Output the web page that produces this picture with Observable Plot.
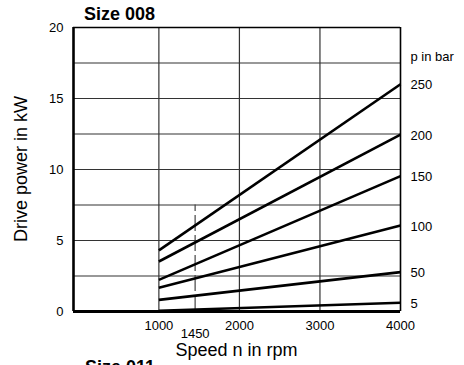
<!DOCTYPE html>
<html>
<head>
<meta charset="utf-8">
<script src="https://cdn.jsdelivr.net/npm/d3@7"></script>
<script src="https://cdn.jsdelivr.net/npm/@observablehq/plot@0.6"></script>
<style>
  html, body { margin: 0; padding: 0; background: #fff; }
  svg { display: block; }
</style>
</head>
<body>
<div id="chart"></div>
<script>
// ---- data ----
const pressures = ["250", "200", "150", "100", "50", "5"];
const speedStart = [1000, 1000, 1000, 1000, 1000, 1000];
const speedEnd = [4000, 4000, 4000, 4000, 4000, 4000];
const powerStart = [4.3, 3.52, 2.23, 1.67, 0.82, 0.05];
const powerEnd = [16.0, 12.46, 9.53, 6.06, 2.77, 0.62];
const xTicks = [1000, 2000, 3000, 4000];
const xGrid = [1000, 2000, 3000];
const yTicks = [0, 5, 10, 15, 20];
const yGrid = [2.5, 5, 7.5, 10, 12.5, 15, 17.5];
const refSpeed = 1450;
const refRange = [0, 7.5];
const legendTitle = "p in bar";
const legendTitleY = 17.9;

const segs = pressures.map((p, i) => ({
  p, x1: speedStart[i], x2: speedEnd[i], y1: powerStart[i], y2: powerEnd[i]
}));

const FONT = "Liberation Sans, Arial, Helvetica, sans-serif";

const plot = Plot.plot({
  width: 464,
  height: 365,
  marginLeft: 73,
  marginRight: 64,
  marginTop: 27,
  marginBottom: 54,
  style: { fontFamily: FONT, fontSize: "13px", color: "#000", background: "#fff" },
  x: { domain: [-60, 4000], axis: null },
  y: { domain: [0, 20], axis: null },
  marks: [
    // grid
    Plot.ruleY(yGrid, { stroke: "#333", strokeWidth: 1.2 }),
    Plot.ruleX(xGrid, { stroke: "#333", strokeWidth: 1.2 }),
    // frame: top & right thinner, left & bottom heavy
    Plot.ruleY([20], { stroke: "#000", strokeWidth: 1.6 }),
    Plot.ruleX([4000], { stroke: "#000", strokeWidth: 1.6 }),
    // reference dashed line at 1450 rpm
    Plot.ruleX([refSpeed], { y1: refRange[0], y2: refRange[1], stroke: "#444", strokeWidth: 1.2, strokeDasharray: "16,4" }),
    // curves
    Plot.link(segs, { x1: "x1", y1: "y1", x2: "x2", y2: "y2", stroke: "#000", strokeWidth: 2.6 }),
    Plot.ruleX([-60], { stroke: "#000", strokeWidth: 2.6 }),
    Plot.ruleY([0], { stroke: "#000", strokeWidth: 3 }),
    // axes
    Plot.axisY(yTicks, { anchor: "left", tickSize: 0, tickPadding: 10, label: null, fontSize: 13 }),
    Plot.axisX(xTicks, { anchor: "bottom", tickSize: 0, tickPadding: 9, label: null, fontSize: 13, tickFormat: d => String(d) }),
    Plot.text([refSpeed], { x: d => d, frameAnchor: "bottom", dy: 22, lineAnchor: "middle", text: d => String(d), fontSize: 13 }),
    // right-hand pressure labels
    Plot.text(segs, { x: "x2", y: "y2", text: "p", textAnchor: "start", dx: 10, dy: 1, fontSize: 13 }),
    Plot.text([legendTitle], { x: 4000, y: legendTitleY, text: d => d, textAnchor: "start", dx: 10, fontSize: 13 })
  ]
});

const svg = d3.select(plot);
svg.append("text")
  .attr("x", 84).attr("y", 20)
  .attr("text-anchor", "start")
  .attr("font-family", FONT).attr("font-size", 18).attr("font-weight", "bold")
  .text("Size 008");
svg.append("text")
  .attr("transform", "translate(22,169) rotate(-90)")
  .attr("text-anchor", "middle").attr("dominant-baseline", "middle")
  .attr("font-family", FONT).attr("font-size", 18)
  .text("Drive power in kW");
svg.append("text")
  .attr("x", 236.5).attr("y", 356)
  .attr("text-anchor", "middle")
  .attr("font-family", FONT).attr("font-size", 18)
  .text("Speed n in rpm");
svg.append("text")
  .attr("x", 85).attr("y", 373)
  .attr("text-anchor", "start")
  .attr("font-family", FONT).attr("font-size", 18).attr("font-weight", "bold")
  .text("Size 011");

document.getElementById("chart").appendChild(plot);
</script>
</body>
</html>
